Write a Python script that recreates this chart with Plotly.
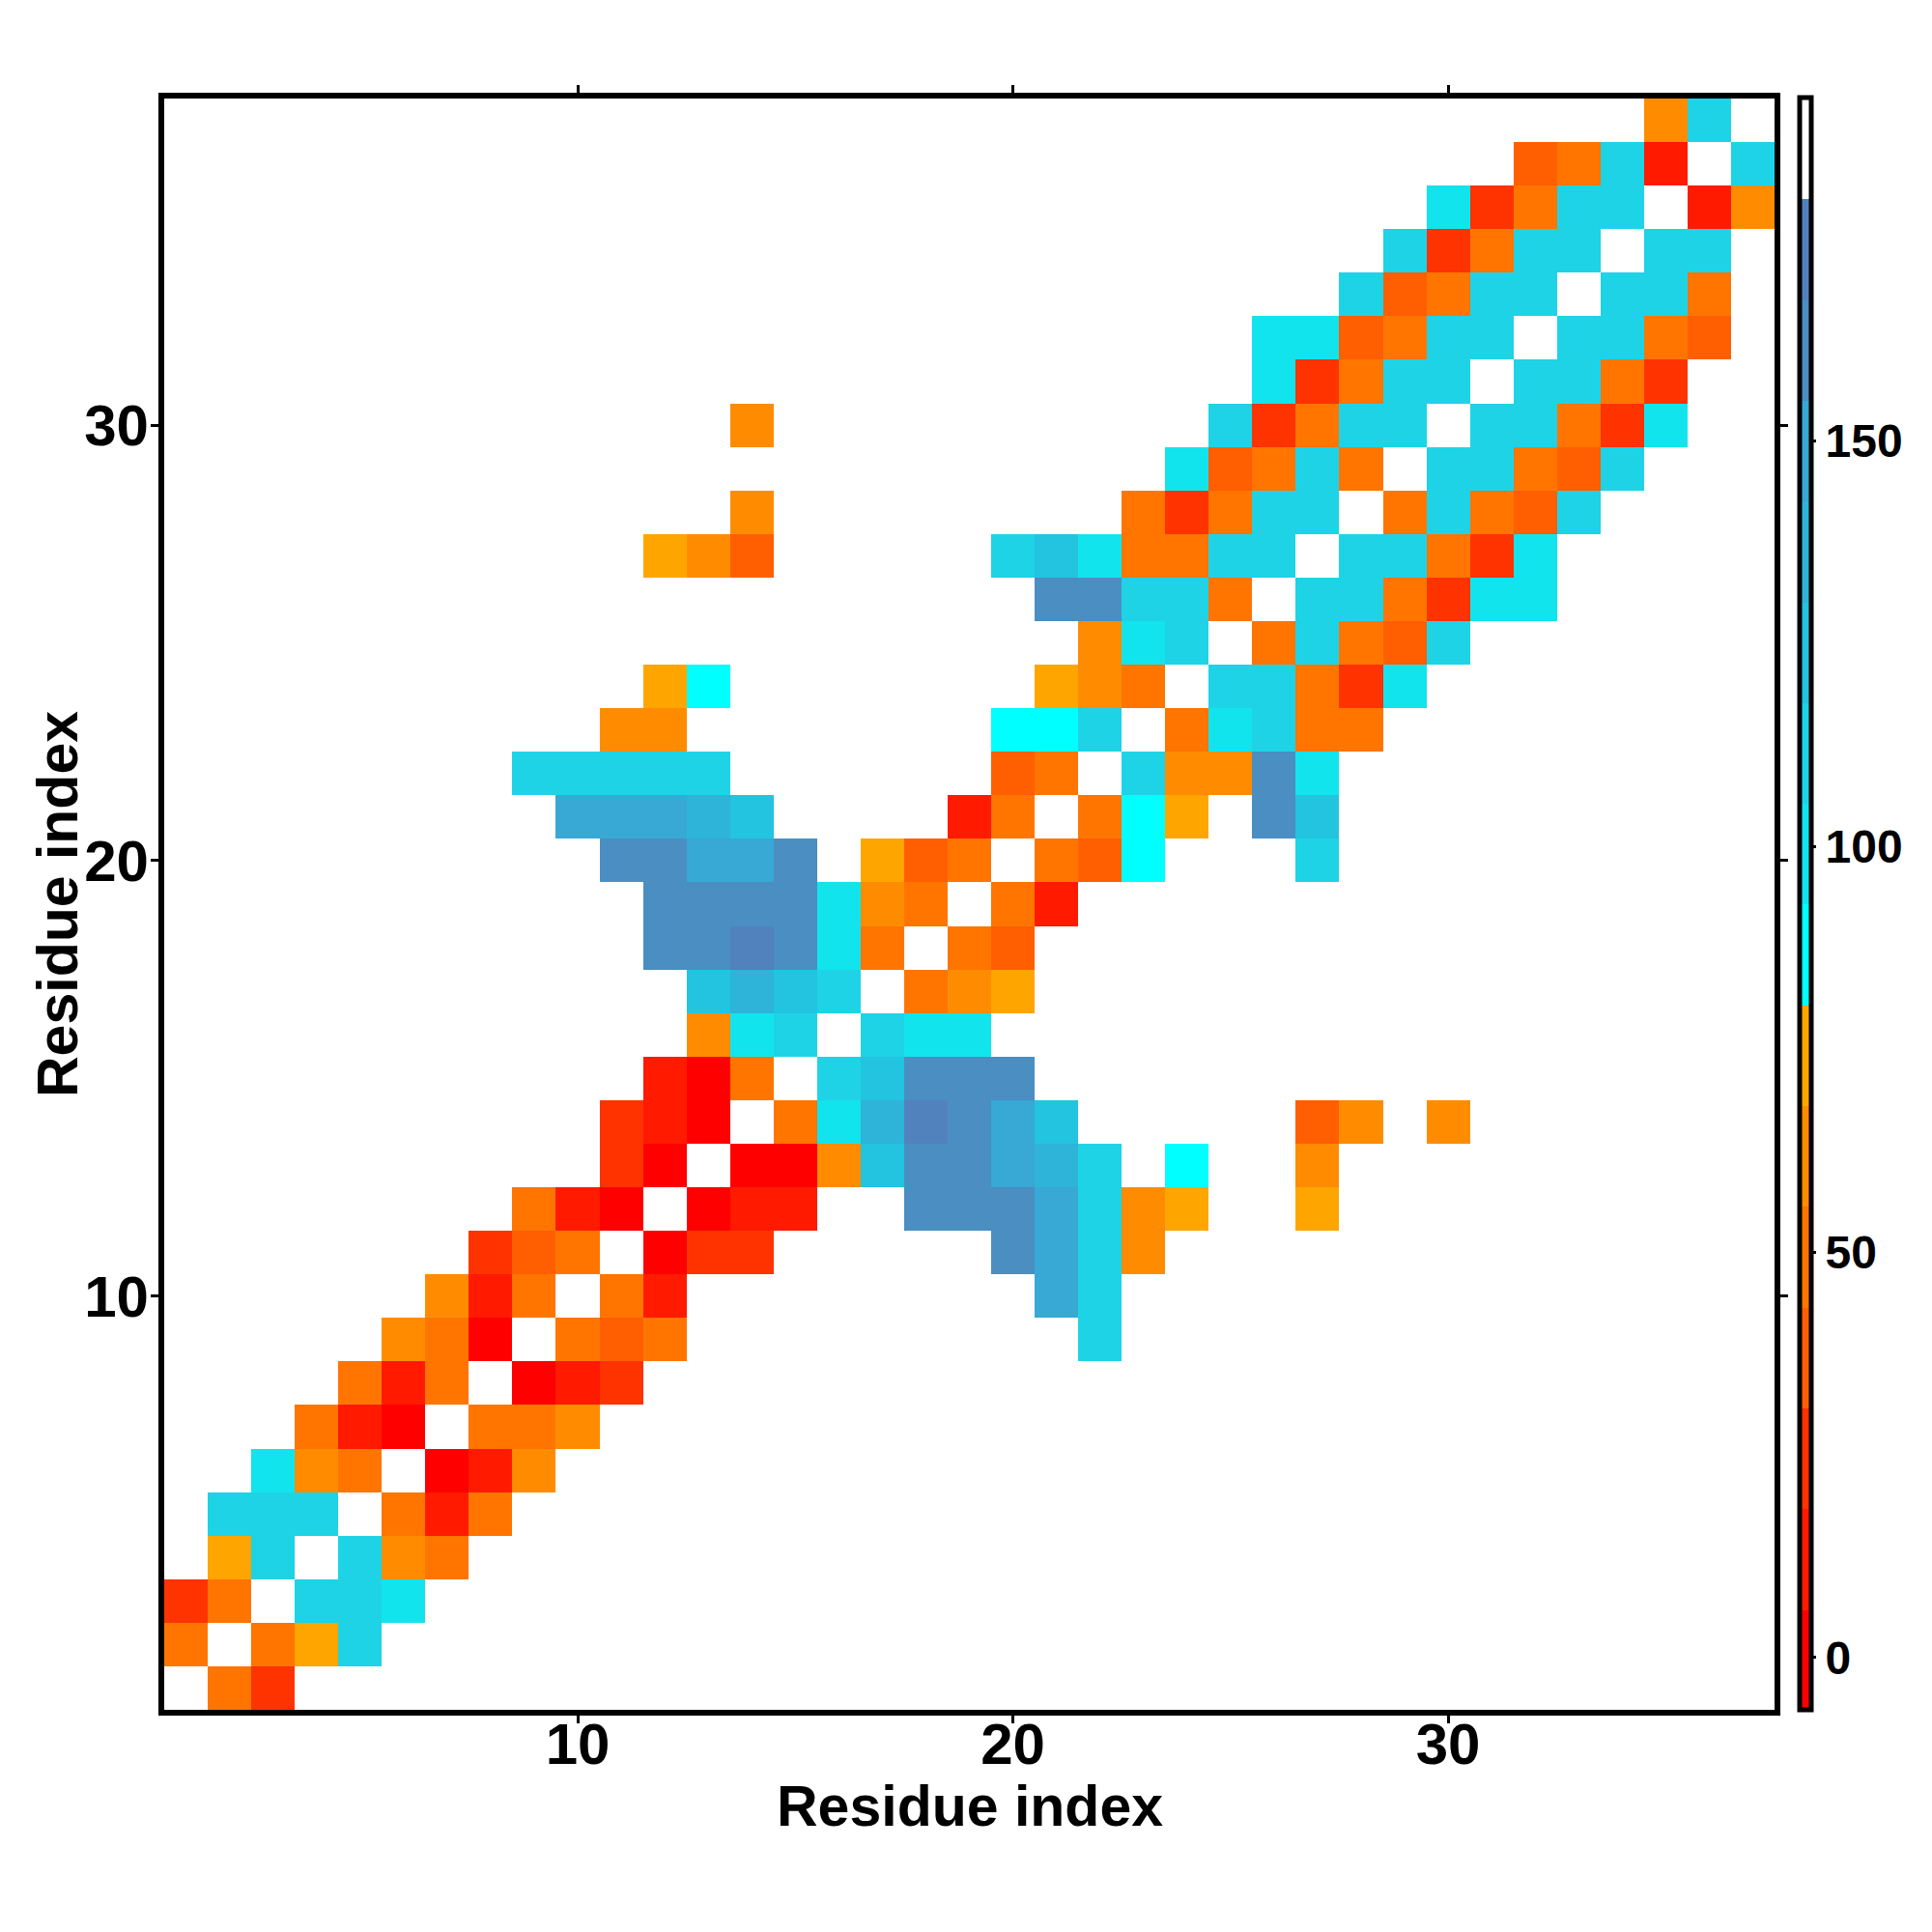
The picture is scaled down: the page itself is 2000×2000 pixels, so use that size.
import plotly.graph_objects as go

# Residue indices (both axes)
residues = list(range(1, 38))

# Colour-level codes for each cell, row i = residue i on the y axis (bottom row first),
# character k = residue k on the x axis. '.' = no value (blank cell).
row_codes = [
    ".EC......." + ".........." + ".........." + ".......",   # 1
    "E.EGJ....." + ".........." + ".........." + ".......",   # 2
    "CE.JJI...." + ".........." + ".........." + ".......",   # 3
    ".GJ.JFE..." + ".........." + ".........." + ".......",   # 4
    ".JJJ.EBE.." + ".........." + ".........." + ".......",   # 5
    "..IFE.ABF." + ".........." + ".........." + ".......",   # 6
    "...EBA.EEF" + ".........." + ".........." + ".......",   # 7
    "....EBE.AB" + "C........." + ".........." + ".......",   # 8
    ".....FEA.E" + "DE........" + ".J........" + ".......",   # 9
    "......FBE." + "EB........" + "MJ........" + ".......",   # 10
    ".......CDE" + ".ACC.....N" + "MJF......." + ".......",   # 11
    "........EB" + "A.ABB..NNN" + "MJFG..G..." + ".......",   # 12
    ".........." + "CA.AAFKNNM" + "LJ.H..F..." + ".......",   # 13
    ".........." + "CBA.EILONM" + "K.....DF.F" + ".......",   # 14
    ".........." + ".BAE.JKNNN" + ".........." + ".......",   # 15
    ".........." + "..FIJ.JII." + ".........." + ".......",   # 16
    ".........." + "..KLKJ.EFG" + ".........." + ".......",   # 17
    ".........." + ".NNONIE.ED" + ".........." + ".......",   # 18
    ".........." + ".NNNNIFE.E" + "B........." + ".......",   # 19
    ".........." + "NNMMN.GDE." + "EDH...J..." + ".......",   # 20
    ".........M" + "MMLK....BE" + ".EHG.NK..." + ".......",   # 21
    "........JJ" + "JJJ......D" + "E.JFFNI..." + ".......",   # 22
    ".........." + "FF.......H" + "HJ.EIJEE.." + ".......",   # 23
    ".........." + ".GH......." + "GFE.JJECI." + ".......",   # 24
    ".........." + ".........." + ".FIJ.EJEDJ" + ".......",   # 25
    ".........." + ".........." + "NNJJE.JJEC" + "II.....",   # 26
    ".........." + ".GFD.....J" + "KIEEJJ.JJE" + "CI.....",   # 27
    ".........." + "...F......" + "..ECEJJ.EJ" + "EDJ....",   # 28
    ".........." + ".........." + "...IDEJE.J" + "JEDJ...",   # 29
    ".........." + "...F......" + "....JCEJJ." + "JJECI..",   # 30
    ".........." + ".........." + ".....ICEJJ" + ".JJEC..",   # 31
    ".........." + ".........." + ".....IIDEJ" + "J.JJED.",   # 32
    ".........." + ".........." + ".......JDE" + "JJ.JJE.",   # 33
    ".........." + ".........." + "........JC" + "EJJ.JJ.",   # 34
    ".........." + ".........." + ".........I" + "CEJJ.BF",   # 35
    ".........." + ".........." + ".........." + ".DEJB.J",   # 36
    ".........." + ".........." + ".........." + "....FJ.",   # 37
]

# Approximate value read for each colour level (angle-like values)
level_values = {
    "A": 0, "B": 12, "C": 25, "D": 37, "E": 50, "F": 62, "G": 74,
    "H": 87, "I": 99, "J": 112, "K": 124, "L": 136, "M": 149, "N": 161, "O": 174,
}

# Colour-bar range and its 16 colour steps (bottom to top)
z_min, z_max = -6.5, 192.3
step_colors = [
    "#FF0000", "#FF1A00", "#FF3300", "#FF5F00", "#FF7500", "#FF8C00", "#FFA500",
    "#00FFFF", "#12E4EE", "#1ED3E6", "#22C4E0", "#2EB3D9", "#38A8D5", "#4A8EC2",
    "#5282BD", "#FFFFFF",
]
cbar_ticks = [0, 50, 100, 150]
axis_ticks = [10, 20, 30]
x_title = "Residue index"
y_title = "Residue index"

for r in row_codes:
    assert len(r) == 37

z = [[level_values.get(c) for c in r] for r in row_codes]

n = len(step_colors)
colorscale = []
for i, c in enumerate(step_colors):
    colorscale.append([i / n, c])
    colorscale.append([(i + 1) / n, c])

FONT = "Liberation Sans, Arial, Helvetica, sans-serif"
title_font = dict(family=FONT, size=59, color="black", weight="bold")

fig = go.Figure(
    go.Heatmap(
        x=residues,
        y=residues,
        z=z,
        zmin=z_min,
        zmax=z_max,
        colorscale=colorscale,
        hoverongaps=False,
        colorbar=dict(
            thickness=12,
            outlinewidth=5,
            outlinecolor="black",
            len=1669,
            lenmode="pixels",
            y=0.5,
            yanchor="middle",
            ypad=0,
            x=1.0155,
            xanchor="left",
            xpad=0,
            tickvals=cbar_ticks,
            ticks="outside",
            ticklen=3,
            tickwidth=3,
            tickcolor="black",
            tickfont=dict(family=FONT, size=48, color="black", weight="bold"),
        ),
    )
)

axis_common = dict(
    range=[0.5, 37.5],
    tickvals=axis_ticks,
    ticks="outside",
    ticklen=8,
    tickwidth=3,
    tickcolor="black",
    showline=True,
    linewidth=6,
    linecolor="black",
    mirror="ticks",
    showgrid=False,
    zeroline=False,
    tickfont=dict(family=FONT, size=60, color="black", weight="bold"),
)

fig.update_xaxes(**axis_common, ticklabelstandoff=-30)
fig.update_yaxes(**axis_common, ticklabelstandoff=-10)

# Axis titles placed as text next to the axes
fig.add_annotation(
    text=x_title, xref="paper", yref="paper", x=0.5, y=0,
    xanchor="center", yanchor="middle", yshift=-100,
    showarrow=False, font=title_font,
)
fig.add_annotation(
    text=y_title, xref="paper", yref="paper", x=0, y=0.5,
    xanchor="center", yanchor="middle", xshift=-110, textangle=-90,
    showarrow=False, font=title_font,
)

# page body has an 8px default offset; plot area spans 170..1837 x 102..1770 on screen
fig.update_layout(
    width=2000,
    height=2000,
    margin=dict(l=162, r=171, t=94, b=238, autoexpand=False),
    plot_bgcolor="white",
    paper_bgcolor="white",
    showlegend=False,
)

fig.write_html("out.html")
